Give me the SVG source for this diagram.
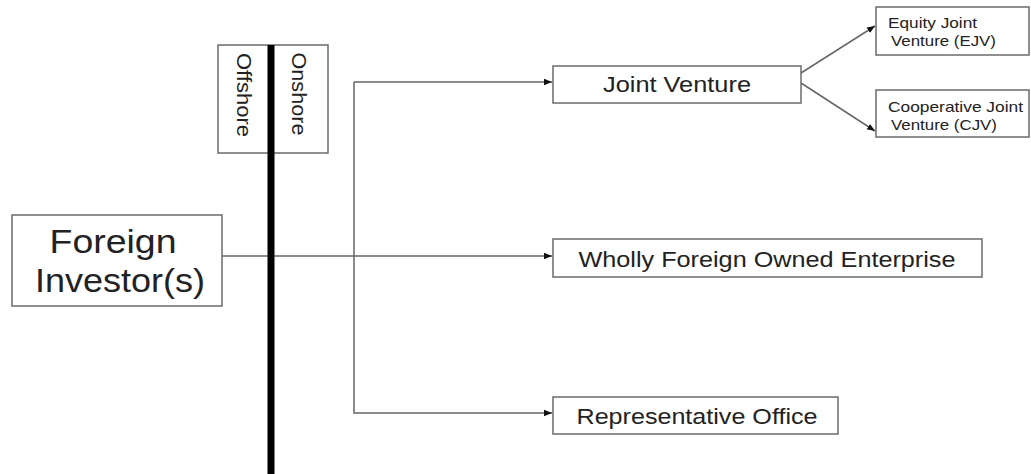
<svg xmlns="http://www.w3.org/2000/svg" width="1031" height="474" viewBox="0 0 1031 474">
<style>
.box{fill:#fff;stroke:#6b6b6b;stroke-width:1.5}
.t{font-family:"Liberation Sans",Arial,sans-serif;fill:#222;text-anchor:middle}
.ts{font-family:"Liberation Sans",Arial,sans-serif;fill:#222;text-anchor:start}
.c{fill:none;stroke:#666;stroke-width:1.5}
</style>
<defs>
<marker id="ah" viewBox="0 0 10 10" refX="10" refY="5" markerWidth="8" markerHeight="8" markerUnits="userSpaceOnUse" orient="auto">
<path d="M0,1 L10,5 L0,9 Z" fill="#111"/>
</marker>
</defs>
<rect width="1031" height="474" fill="#fff"/>
<g id="shore">
<rect class="box" x="218" y="45" width="110" height="108"/>
<text class="t" font-size="21" textLength="84" lengthAdjust="spacingAndGlyphs" transform="translate(237,95) rotate(90)">Offshore</text>
<text class="t" font-size="21" textLength="83" lengthAdjust="spacingAndGlyphs" transform="translate(292,94) rotate(90)">Onshore</text>
</g>
<g id="connectors">
<line class="c" x1="222" y1="256" x2="552" y2="256" marker-end="url(#ah)"/>
<path class="c" d="M354,82 L354,413 L552,413" marker-end="url(#ah)"/>
<line class="c" x1="354" y1="82" x2="552" y2="82" marker-end="url(#ah)"/>
<line class="c" x1="801" y1="73" x2="875" y2="26" marker-end="url(#ah)"/>
<line class="c" x1="801" y1="83" x2="875" y2="131" marker-end="url(#ah)"/>
</g>
<line id="divider" x1="271" y1="45" x2="271" y2="474" stroke="#000" stroke-width="7"/>
<g id="foreign">
<rect class="box" x="12" y="215" width="210" height="91"/>
<text class="t" x="113" y="253" font-size="33" textLength="127" lengthAdjust="spacingAndGlyphs">Foreign</text>
<text class="t" x="120" y="292" font-size="33" textLength="170" lengthAdjust="spacingAndGlyphs">Investor(s)</text>
</g>
<g id="jv">
<rect class="box" x="553" y="66" width="248" height="37"/>
<text class="t" x="677" y="92" font-size="22" textLength="148" lengthAdjust="spacingAndGlyphs">Joint Venture</text>
</g>
<g id="ejv">
<rect class="box" x="876" y="7" width="153" height="48"/>
<text class="ts" x="888" y="28" font-size="15" textLength="89" lengthAdjust="spacingAndGlyphs">Equity Joint</text>
<text class="ts" x="891" y="46" font-size="15" textLength="105" lengthAdjust="spacingAndGlyphs">Venture (EJV)</text>
</g>
<g id="cjv">
<rect class="box" x="876" y="90" width="153" height="47"/>
<text class="ts" x="888" y="112" font-size="15" textLength="135" lengthAdjust="spacingAndGlyphs">Cooperative Joint</text>
<text class="ts" x="891" y="130" font-size="15" textLength="106" lengthAdjust="spacingAndGlyphs">Venture (CJV)</text>
</g>
<g id="wfoe">
<rect class="box" x="553" y="239" width="429" height="38"/>
<text class="t" x="767" y="267" font-size="22" textLength="377" lengthAdjust="spacingAndGlyphs">Wholly Foreign Owned Enterprise</text>
</g>
<g id="ro">
<rect class="box" x="553" y="397" width="285" height="37"/>
<text class="t" x="697" y="424" font-size="22" textLength="241" lengthAdjust="spacingAndGlyphs">Representative Office</text>
</g>
</svg>
